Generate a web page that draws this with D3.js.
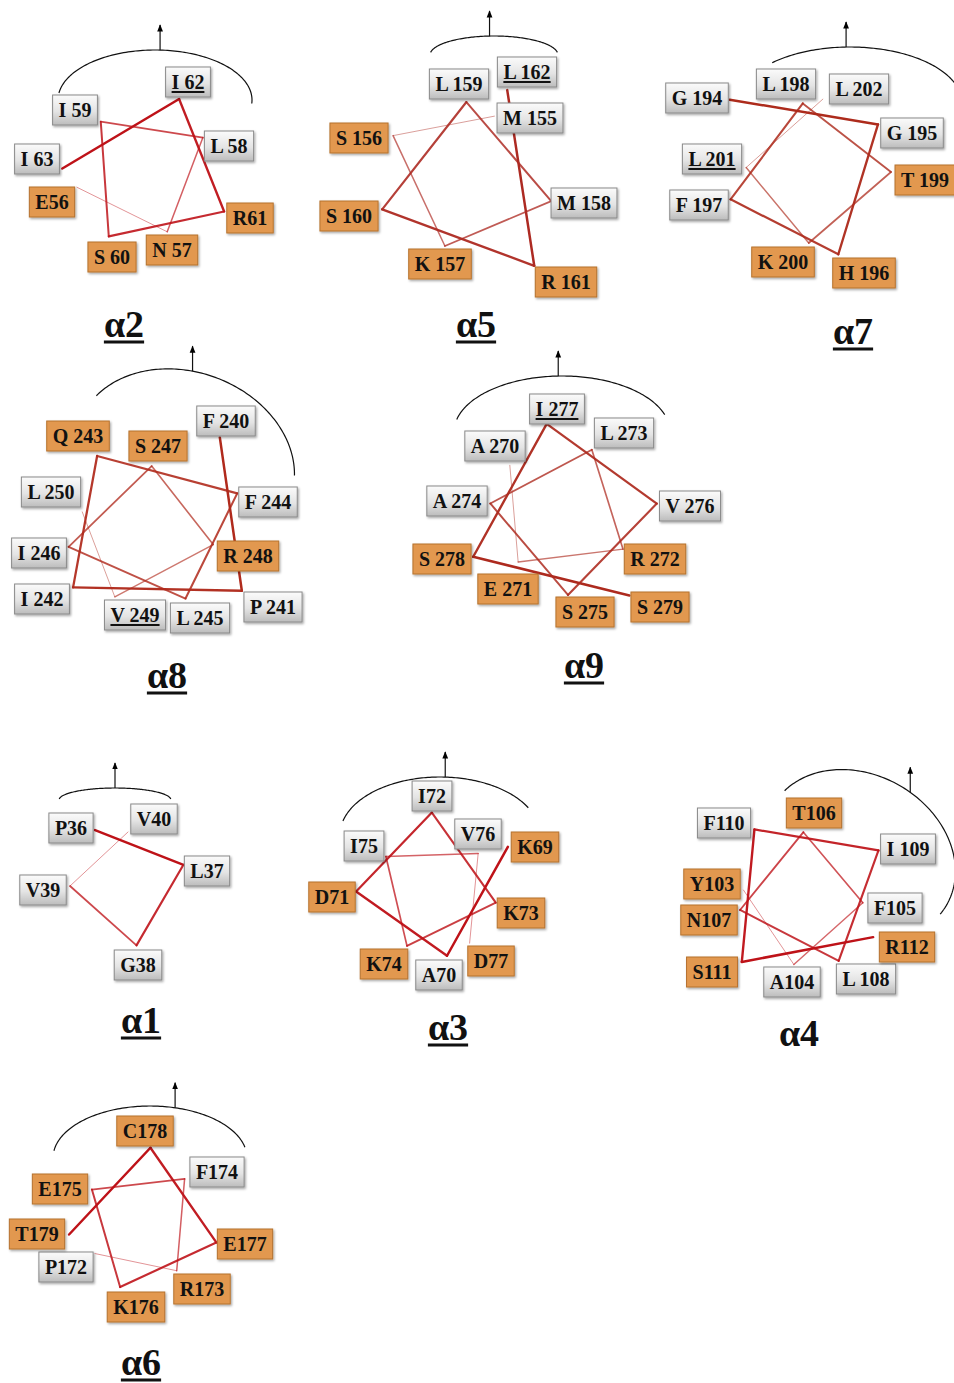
<!DOCTYPE html>
<html>
<head>
<meta charset="utf-8">
<script src="https://cdn.jsdelivr.net/npm/d3@7"></script>
<style>
  body { margin: 0; background: #fff; }
  svg { display: block; }
</style>
</head>
<body>
<div id="chart"></div>
<script>
// helices, in the order they appear on the page
const helices = ["α2", "α5", "α7", "α8", "α9", "α1", "α3", "α4", "α6"];

// residues of each helix (N -> C), with the wheel angle (deg, ccw from east)
// and wheel radius for each one
const a2Residues = ["E56", "N 57", "L 58", "I 59", "S 60", "R61", "I 62", "I 63"];
const a2Angles = [189, 289, 35, 131, 237, 335, 68, 175];
const a2Radii = [72, 59, 67, 72, 72, 84, 83, 86];

const a5Residues = ["M 155", "S 156", "K 157", "M 158", "L 159", "S 160", "R 161", "L 162"];
const a5Angles = [67, 152, 251, 343, 92, 201, 306, 66];
const a5Radii = [65, 86, 74, 86, 74, 93, 111, 94];

const a7Residues = ["G 194", "G 195", "H 196", "F 197", "L 198", "T 199", "K 200", "L 201", "L 202"];
const a7Angles = [138, 35, 289, 199, 96, 0, 269, 176, 80];
const a7Radii = [108, 83, 87, 84, 69, 81, 71, 64, 74];

const a8Residues = ["F 240", "P 241", "I 242", "Q 243", "F 244", "L 245", "I 246", "S 247", "R 248", "V 249", "L 250"];
const a8Angles = [55, 325, 215, 128, 24, 294, 191, 93, 346, 239, 166];
const a8Radii = [113, 106, 100, 94, 90, 75, 88, 64, 60, 78, 75];

const a9Residues = ["A 270", "E 271", "R 272", "L 273", "A 274", "S 275", "V 276", "I 277", "S 278", "S 279"];
const a9Angles = [141, 228, 326, 66, 175, 272, 4, 102, 207, 307];
const a9Radii = [71, 70, 70, 66, 75, 85, 92, 88, 103, 107];

const a1Residues = ["P36", "L37", "G38", "V39", "V40"];
const a1Angles = [121, 20, 278, 181, 90];
const a1Radii = [64, 59, 61, 58, 53];

const a3Residues = ["K69", "A70", "D71", "I72", "K73", "K74", "I75", "V76", "D77"];
const a3Angles = [31, 275, 183, 97, 344, 240, 151, 42, 297];
const a3Radii = [78, 69, 85, 75, 57, 68, 63, 50, 63];

const a4Residues = ["Y103", "A104", "F105", "T106", "N107", "L 108", "I 109", "F110", "S111", "R112"];
const a4Angles = [173, 258, 355, 94, 190, 296, 34, 128, 224, 329];
const a4Radii = [65, 68, 55, 66, 69, 70, 85, 87, 92, 76];

const a6Residues = ["P172", "R173", "F174", "E175", "K176", "E177", "C178", "T179"];
const a6Angles = [215, 307, 44, 146, 253, 345, 82, 190];
const a6Radii = [55, 61, 62, 58, 68, 79, 75, 72];

// residues underlined in the figure
const underlined = ["I 62", "L 162", "L 201", "V 249", "I 277"];
// one-letter codes shown in orange boxes (polar / charged)
const polarCodes = "DEKRHNQSTYC";
// titles drawn without underline
const plainTitles = ["α4"];

const residueData = {
  "α2": [a2Residues, a2Angles, a2Radii],
  "α5": [a5Residues, a5Angles, a5Radii],
  "α7": [a7Residues, a7Angles, a7Radii],
  "α8": [a8Residues, a8Angles, a8Radii],
  "α9": [a9Residues, a9Angles, a9Radii],
  "α1": [a1Residues, a1Angles, a1Radii],
  "α3": [a3Residues, a3Angles, a3Radii],
  "α4": [a4Residues, a4Angles, a4Radii],
  "α6": [a6Residues, a6Angles, a6Radii]
};

// page layout: wheel centre, title, bracket over the hydrophobic face,
// which end of the chain is drawn faint, line ink, and where each residue
// box sits (offset from the wheel centre, same order as the residues)
const layout = {
  "α2": {cx: 148, cy: 176, title: [124, 337], faint: "start", ink: "#be1218",
         arc: {cx: 155, cy: 100, rx: 97, ry: 50, tilt: 0, t0: 172, t1: -4, ta: 87},
         labels: [[-96, 26], [24, 74], [81, -30], [-73, -66], [-36, 81], [102, 42], [40, -94], [-111, -17]]},
  "α5": {cx: 469, cy: 176, title: [476, 337], faint: "start", ink: "#ad2a22",
         arc: {cx: 494, cy: 55, rx: 64, ry: 19, tilt: 0, t0: 172, t1: 8, ta: 94},
         labels: [[61, -58], [-110, -38], [-29, 88], [115, 27], [-10, -92], [-120, 40], [97, 106], [58, -104]]},
  "α7": {cx: 810, cy: 172, title: [853, 344], faint: "end", ink: "#ad2b1c",
         arc: {cx: 850, cy: 103, rx: 112, ry: 56, tilt: 0, t0: 134, t1: -16, ta: 92},
         labels: [[-113, -74], [102, -39], [54, 101], [-111, 33], [-24, -88], [115, 8], [-27, 90], [-98, -13], [49, -83]]},
  "α8": {cx: 155, cy: 530, title: [167, 688], faint: "end", ink: "#b02a1c",
         arc: {cx: 185, cy: 460, rx: 112, ry: 88, tilt: 20, t0: 160, t1: 15, ta: 102},
         labels: [[71, -109], [118, 77], [-113, 69], [-77, -94], [113, -28], [45, 88], [-116, 23], [3, -84], [93, 26], [-20, 85], [-104, -38]]},
  "α9": {cx: 565, cy: 510, title: [584, 678], faint: "start", ink: "#ad2a1e",
         arc: {cx: 562, cy: 432, rx: 108, ry: 56, tilt: 0, t0: 167, t1: 18, ta: 92},
         labels: [[-70, -64], [-57, 79], [90, 49], [59, -77], [-108, -9], [20, 102], [125, -4], [-8, -101], [-123, 49], [95, 97]]},
  "α1": {cx: 128, cy: 885, title: [141, 1033], faint: "end", ink: "#be1218",
         arc: {cx: 115, cy: 800, rx: 56, ry: 12, tilt: 0, t0: 175, t1: 5, ta: 90},
         labels: [[-57, -57], [79, -14], [10, 80], [-85, 5], [26, -66]]},
  "α3": {cx: 441, cy: 887, title: [448, 1040], faint: "end", ink: "#be1218",
         arc: {cx: 440, cy: 835, rx: 100, ry: 58, tilt: 0, t0: 166, t1: 28, ta: 87},
         labels: [[94, -40], [-2, 88], [-109, 10], [-9, -91], [80, 26], [-57, 77], [-77, -41], [37, -53], [50, 74]]},
  "α4": {cx: 808, cy: 898, title: [799, 1046], faint: "start", ink: "#be1218",
         arc: {cx: 860, cy: 855, rx: 100, ry: 80, tilt: 30, t0: 167, t1: -8, ta: 83},
         labels: [[-96, -14], [-16, 84], [87, 10], [6, -85], [-99, 22], [58, 81], [100, -49], [-84, -75], [-96, 74], [99, 49]]},
  "α6": {cx: 140, cy: 1222, title: [141, 1375], faint: "start", ink: "#be1218",
         arc: {cx: 150, cy: 1158, rx: 97, ry: 52, tilt: 0, t0: 172, t1: 12, ta: 75},
         labels: [[-74, 45], [62, 67], [77, -50], [-80, -33], [-4, 85], [105, 22], [5, -91], [-103, 12]]}
};

const W = 954, H = 1383;
const boxH = 30, padX = 6;

const svg = d3.select("#chart").append("svg")
  .attr("width", W)
  .attr("height", H)
  .style("font-family", "'Liberation Serif', 'Times New Roman', serif");

const defs = svg.append("defs");
const grad = defs.append("linearGradient")
  .attr("id", "boxGray")
  .attr("x1", 0).attr("y1", 0).attr("x2", 0).attr("y2", 1);
grad.append("stop").attr("offset", "0%").attr("stop-color", "#fbfbfb");
grad.append("stop").attr("offset", "55%").attr("stop-color", "#e4e4e4");
grad.append("stop").attr("offset", "100%").attr("stop-color", "#bcbcbc");

defs.append("filter")
  .attr("id", "shadow")
  .attr("x", "-20%").attr("y", "-20%").attr("width", "140%").attr("height", "150%")
  .append("feDropShadow")
  .attr("dx", 1.2).attr("dy", 1.5)
  .attr("stdDeviation", 1)
  .attr("flood-color", "#000")
  .attr("flood-opacity", 0.35);

defs.append("marker")
  .attr("id", "arrow")
  .attr("viewBox", "0 0 10 10")
  .attr("refX", 9).attr("refY", 5)
  .attr("markerWidth", 6).attr("markerHeight", 6)
  .attr("orient", "auto")
  .append("path")
  .attr("d", "M0,1 L10,5 L0,9 z")
  .attr("fill", "#000");

// polar scales: degrees (ccw from east) -> d3 radial angle, radius units -> px
const angleScale = d3.scaleLinear().domain([0, 360]).range([Math.PI / 2, Math.PI / 2 - 2 * Math.PI]);
const radiusScale = d3.scaleLinear().domain([0, 100]).range([0, 100]);
// strength along the chain: faint end -> strong end
const widthScale = d3.scalePow().exponent(0.6).domain([0, 1]).range([1.0, 2.5]);
const fadeScale = d3.scalePow().exponent(0.5).domain([0, 1]).range([0.45, 1]);

function ellipsePoint(a, t) {
  const tr = t * Math.PI / 180, ph = a.tilt * Math.PI / 180;
  const x = a.rx * Math.cos(tr), y = -a.ry * Math.sin(tr);
  return [a.cx + x * Math.cos(ph) - y * Math.sin(ph), a.cy + x * Math.sin(ph) + y * Math.cos(ph)];
}

helices.forEach(h => {
  const [names, angles, radii] = residueData[h];
  const L = layout[h];
  const g = svg.append("g").attr("class", "wheel");

  // bracket over the hydrophobic face, with its arrow
  const a = L.arc;
  const ts = d3.range(0, 1.0001, 1 / 120).map(f => a.t0 + (a.t1 - a.t0) * f);
  g.append("path")
    .attr("d", d3.line()(ts.map(t => ellipsePoint(a, t))))
    .attr("fill", "none")
    .attr("stroke", "#111")
    .attr("stroke-width", 1.2);
  const top = ellipsePoint(a, a.ta);
  g.append("line")
    .attr("x1", top[0]).attr("y1", top[1])
    .attr("x2", top[0]).attr("y2", top[1] - 25)
    .attr("stroke", "#111")
    .attr("stroke-width", 1.2)
    .attr("marker-end", "url(#arrow)");

  const pts = names.map((name, i) => {
    const p = d3.pointRadial(angleScale(angles[i]), radiusScale(radii[i]));
    return {
      name, i,
      x: L.cx + p[0], y: L.cy + p[1],
      bx: L.cx + L.labels[i][0], by: L.cy + L.labels[i][1],
      polar: polarCodes.includes(name[0]),
      under: underlined.includes(name)
    };
  });

  // backbone of the wheel, faint at one end and strong at the other
  const n = pts.length;
  const strength = d => {
    const w = d[0].i / (n - 2);
    return L.faint === "start" ? w : 1 - w;
  };
  g.selectAll("line.seg")
    .data(d3.pairs(pts))
    .join("line")
    .attr("class", "seg")
    .attr("x1", d => d[0].x).attr("y1", d => d[0].y)
    .attr("x2", d => d[1].x).attr("y2", d => d[1].y)
    .attr("stroke", L.ink)
    .attr("stroke-opacity", d => fadeScale(strength(d)))
    .attr("stroke-width", d => widthScale(strength(d)))
    .attr("stroke-linecap", "round");

  // residue boxes
  const lab = g.selectAll("g.res")
    .data(pts)
    .join("g")
    .attr("class", "res");
  lab.append("rect")
    .attr("height", boxH)
    .attr("fill", d => d.polar ? "#e2984f" : "url(#boxGray)")
    .attr("stroke", d => d.polar ? "#b5722f" : "#8a8a8a")
    .attr("stroke-width", 1)
    .attr("filter", "url(#shadow)");
  lab.append("text")
    .text(d => d.name)
    .attr("font-size", 20)
    .attr("font-weight", "bold")
    .attr("fill", "#111")
    .attr("text-anchor", "middle");
  lab.each(function (d) {
    const sel = d3.select(this);
    const tw = sel.select("text").node().getComputedTextLength();
    const bw = tw + 2 * padX;
    sel.select("rect").attr("x", d.bx - bw / 2).attr("y", d.by - boxH / 2).attr("width", bw);
    sel.select("text").attr("x", d.bx).attr("y", d.by + 7);
    if (d.under) {
      sel.append("line")
        .attr("x1", d.bx - tw / 2).attr("x2", d.bx + tw / 2)
        .attr("y1", d.by + 10).attr("y2", d.by + 10)
        .attr("stroke", "#111")
        .attr("stroke-width", 2);
    }
  });

  // title
  const title = g.append("text")
    .attr("x", L.title[0]).attr("y", L.title[1])
    .attr("text-anchor", "middle")
    .attr("font-size", 38)
    .attr("font-weight", "bold")
    .attr("fill", "#111")
    .text(h);
  if (!plainTitles.includes(h)) {
    const tw = title.node().getComputedTextLength();
    g.append("line")
      .attr("x1", L.title[0] - tw / 2).attr("x2", L.title[0] + tw / 2)
      .attr("y1", L.title[1] + 5).attr("y2", L.title[1] + 5)
      .attr("stroke", "#111")
      .attr("stroke-width", 3);
  }
});
</script>
</body>
</html>
